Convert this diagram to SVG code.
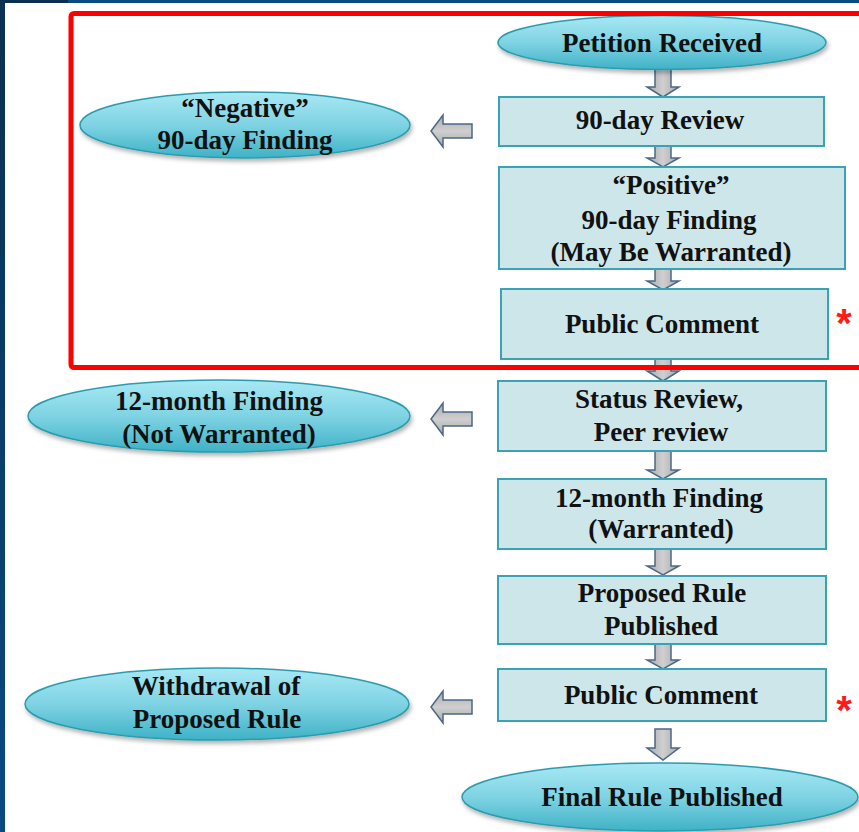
<svg xmlns="http://www.w3.org/2000/svg" width="859" height="832" viewBox="0 0 859 832">
<defs>
<linearGradient id="ellG" x1="0" y1="0" x2="0" y2="1">
<stop offset="0" stop-color="#a8e8f4"/>
<stop offset="0.5" stop-color="#7fd3e3"/>
<stop offset="1" stop-color="#3fb2c6"/>
</linearGradient>
<linearGradient id="arrG" x1="0" y1="0" x2="1" y2="0">
<stop offset="0" stop-color="#a9a9a9"/>
<stop offset="0.5" stop-color="#cfcfcf"/>
<stop offset="1" stop-color="#a9a9a9"/>
</linearGradient>
<linearGradient id="arrGv" x1="0" y1="0" x2="0" y2="1">
<stop offset="0" stop-color="#a9a9a9"/>
<stop offset="0.5" stop-color="#cfcfcf"/>
<stop offset="1" stop-color="#a9a9a9"/>
</linearGradient>
<linearGradient id="sideG" x1="0" y1="0" x2="0" y2="1">
<stop offset="0" stop-color="#0b2f50"/>
<stop offset="1" stop-color="#0a4a82"/>
</linearGradient>
<filter id="sh" x="-10%" y="-20%" width="120%" height="150%">
<feDropShadow dx="1.5" dy="3" stdDeviation="2" flood-color="#000" flood-opacity="0.3"/>
</filter>
</defs>
<style>
.ell{fill:url(#ellG);stroke:#2c9cad;stroke-width:1.5;filter:url(#sh)}
.box{fill:#cde6ea;stroke:#3aa2b2;stroke-width:2}
.t{font-weight:bold;font-size:27px;fill:#111;text-anchor:middle}
.da{fill:url(#arrG);stroke:#4a6888;stroke-width:1.5;stroke-linejoin:miter}
.la{fill:url(#arrGv);stroke:#4a6888;stroke-width:1.5}
.ast{font-weight:bold;font-size:40px;fill:#ff1a1a;text-anchor:middle}
</style>
<rect x="0" y="0" width="859" height="832" fill="#ffffff"/>
<rect x="0" y="0" width="859" height="3" fill="#0b4a80"/>
<rect x="0" y="0" width="68" height="3" fill="#0b2f50"/>
<rect x="0" y="0" width="5" height="832" fill="url(#sideG)"/>

<g id="connectors">
<path class="da" d="M655,68 H671 V87 H679 L663,97 L647,87 H655 Z"/>
<path class="da" d="M655,146 H671 V158 H679 L663,167 L647,158 H655 Z"/>
<path class="da" d="M655,269 H671 V281 H679 L663,290 L647,281 H655 Z"/>
<path class="da" d="M655,359 H671 V371 H679 L663,381 L647,371 H655 Z"/>
<path class="da" d="M655,451 H671 V470 H679 L663,479 L647,470 H655 Z"/>
<path class="da" d="M655,549 H671 V566 H679 L663,575 L647,566 H655 Z"/>
<path class="da" d="M655,644 H671 V660 H679 L663,669 L647,660 H655 Z"/>
<path class="da" d="M655,729 H671 V748 H679 L663,760 L647,748 H655 Z"/>
<path class="la" d="M472,124 V138 H443 V147 L431,131 L443,115 V124 Z"/>
<path class="la" d="M472,412 V426 H443 V435 L431,419 L443,403 V412 Z"/>
<path class="la" d="M472,700 V714 H443 V723 L431,707 L443,691 V700 Z"/>
</g>

<g font-family="Liberation Serif, DejaVu Serif, Times New Roman, serif">
<g id="petition-received">
<ellipse class="ell" cx="662" cy="42.5" rx="164" ry="27"/>
<text class="t" x="662" y="52">Petition Received</text>
</g>
<g id="review-90day">
<rect class="box" x="499" y="97" width="325" height="49"/>
<text class="t" x="660" y="129">90-day Review</text>
</g>
<g id="negative-finding">
<ellipse class="ell" cx="245" cy="125" rx="165" ry="33"/>
<text class="t" x="245" y="117">“Negative”</text>
<text class="t" x="245" y="149">90-day Finding</text>
</g>
<g id="positive-finding">
<rect class="box" x="499" y="167" width="346" height="102"/>
<text class="t" x="671" y="194">“Positive”</text>
<text class="t" x="669" y="229">90-day Finding</text>
<text class="t" x="671" y="261">(May Be Warranted)</text>
</g>
<g id="public-comment-1">
<rect class="box" x="501" y="289" width="327" height="70"/>
<text class="t" x="662" y="333">Public Comment</text>
<text class="ast" font-family="Liberation Sans, Arial, sans-serif" x="844" y="337">*</text>
</g>
<g id="status-review">
<rect class="box" x="498" y="381" width="328" height="70"/>
<text class="t" x="659" y="408">Status Review,</text>
<text class="t" x="661" y="441">Peer review</text>
</g>
<g id="not-warranted">
<ellipse class="ell" cx="219" cy="416" rx="191" ry="36"/>
<text class="t" x="219" y="410">12-month Finding</text>
<text class="t" x="219" y="443">(Not Warranted)</text>
</g>
<g id="warranted">
<rect class="box" x="498" y="479" width="328" height="70"/>
<text class="t" x="659" y="507">12-month Finding</text>
<text class="t" x="661" y="538">(Warranted)</text>
</g>
<g id="proposed-rule">
<rect class="box" x="498" y="576" width="328" height="68"/>
<text class="t" x="662" y="602">Proposed Rule</text>
<text class="t" x="661" y="635">Published</text>
</g>
<g id="public-comment-2">
<rect class="box" x="498" y="669" width="328" height="52"/>
<text class="t" x="661" y="704">Public Comment</text>
<text class="ast" font-family="Liberation Sans, Arial, sans-serif" x="844" y="724">*</text>
</g>
<g id="withdrawal">
<ellipse class="ell" cx="217" cy="704" rx="192" ry="36"/>
<text class="t" x="216" y="695">Withdrawal of</text>
<text class="t" x="217" y="728">Proposed Rule</text>
</g>
<g id="final-rule">
<ellipse class="ell" cx="660" cy="797" rx="198" ry="34"/>
<text class="t" x="662" y="806">Final Rule Published</text>
</g>
</g>

<rect x="71" y="13.5" width="800" height="354" rx="3" fill="none" stroke="#ff0000" stroke-width="5"/>
</svg>
